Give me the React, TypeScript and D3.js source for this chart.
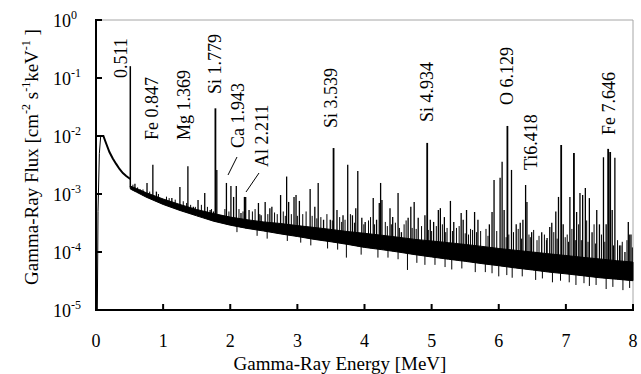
import React from 'react';
import * as d3 from 'd3';

// ---------------- DATA ----------------
const xTicks = [0, 1, 2, 3, 4, 5, 6, 7, 8];
const yTickExps = [0, -1, -2, -3, -4, -5];

// steep rise at the lowest energies (thin line)
const riseEnergy = [0.02, 0.03, 0.05, 0.07];
const riseFlux = [1e-5, 5e-4, 5e-3, 1e-2];

// low-energy part of the spectrum (below the 0.511 line)
const lowEnergy = [0.07, 0.08, 0.11, 0.15, 0.2, 0.25, 0.3, 0.35, 0.4, 0.45, 0.5, 0.511];
const lowFlux = [1e-2, 1e-2, 1e-2, 7.5e-3, 5.3e-3, 4.1e-3, 3.3e-3, 2.7e-3, 2.3e-3, 2.05e-3, 1.85e-3, 1.82e-3];

// annihilation line
const annihEnergy = 0.511;
const annihTop = 0.16;
const annihBase = 1.3e-3;

// noisy continuum band (upper / lower envelope of the dense core)
const bandEnergy = [0.511, 0.6, 0.75, 1.0, 1.25, 1.5, 1.75, 2.0, 2.25, 2.5, 2.75, 3.0, 3.25, 3.5, 3.75, 4.0, 4.25, 4.5, 4.75, 5.0, 5.25, 5.5, 5.75, 6.0, 6.25, 6.5, 6.75, 7.0, 7.25, 7.5, 7.75, 8.0];
const bandUpper = [1.37e-3, 1.25e-3, 1.05e-3, 8.2e-4, 6.6e-4, 5.4e-4, 4.6e-4, 4.0e-4, 3.6e-4, 3.3e-4, 3.1e-4, 2.85e-4, 2.65e-4, 2.45e-4, 2.25e-4, 2.1e-4, 1.95e-4, 1.8e-4, 1.65e-4, 1.55e-4, 1.45e-4, 1.35e-4, 1.25e-4, 1.15e-4, 1.07e-4, 1.0e-4, 9.3e-5, 8.7e-5, 8.1e-5, 7.6e-5, 7.1e-5, 6.7e-5];
const bandLower = [1.22e-3, 1.08e-3, 8.8e-4, 6.6e-4, 5.2e-4, 4.2e-4, 3.4e-4, 2.9e-4, 2.55e-4, 2.3e-4, 2.05e-4, 1.85e-4, 1.65e-4, 1.5e-4, 1.35e-4, 1.2e-4, 1.1e-4, 1.0e-4, 9e-5, 8.2e-5, 7.5e-5, 6.9e-5, 6.3e-5, 5.8e-5, 5.3e-5, 4.9e-5, 4.5e-5, 4.2e-5, 3.9e-5, 3.6e-5, 3.4e-5, 3.2e-5];

// line peaks
const peakEnergy = [0.58, 0.66, 0.76, 0.847, 0.9, 0.98, 1.13, 1.25, 1.369, 1.45, 1.52, 1.62, 1.7, 1.75, 1.779, 1.8, 1.87, 1.943, 2.01, 2.05, 2.09, 2.16, 2.211, 2.23, 2.28, 2.42, 2.46, 2.52, 2.59, 2.62, 2.75, 2.84, 2.87, 2.95, 2.98, 3.03, 3.19, 3.26, 3.31, 3.39, 3.49, 3.539, 3.59, 3.68, 3.75, 3.82, 3.87, 3.9, 3.96, 4.01, 4.13, 4.18, 4.22, 4.24, 4.26, 4.38, 4.42, 4.5, 4.55, 4.65, 4.69, 4.74, 4.8, 4.9, 4.934, 4.98, 5.03, 5.1, 5.13, 5.19, 5.28, 5.33, 5.44, 5.47, 5.52, 5.64, 5.69, 5.86, 5.9, 5.93, 6.02, 6.05, 6.08, 6.129, 6.19, 6.26, 6.32, 6.36, 6.4, 6.42, 6.49, 6.64, 6.72, 6.76, 6.79, 6.85, 6.89, 6.93, 6.96, 7.06, 7.12, 7.16, 7.21, 7.25, 7.29, 7.35, 7.39, 7.46, 7.5, 7.56, 7.6, 7.63, 7.66, 7.69, 7.73, 7.8, 7.88, 7.93, 7.97];
const peakFlux = [1.5e-3, 1.2e-3, 1.55e-3, 3.2e-3, 1.1e-3, 7.9e-4, 8.5e-4, 1.32e-3, 3.0e-3, 6e-4, 7.9e-4, 1.04e-3, 5.3e-4, 5e-4, 0.03, 2.6e-3, 4.3e-4, 1.55e-3, 1.37e-3, 8.9e-4, 1.37e-3, 4.7e-4, 8.9e-4, 8.9e-4, 5.3e-4, 7e-4, 4.3e-4, 7.3e-4, 5.7e-4, 6e-4, 9.6e-4, 2.0e-3, 7.3e-4, 8.9e-4, 9.6e-4, 7.6e-4, 1.22e-3, 6e-4, 1.55e-3, 3.6e-4, 3.6e-4, 6.2e-3, 5.3e-4, 4.3e-4, 3.2e-3, 4.3e-4, 5.7e-4, 2.5e-3, 3.9e-4, 3.3e-4, 8.5e-4, 3.6e-4, 7e-4, 1.55e-3, 7.9e-4, 5.7e-4, 4.0e-4, 1.04e-3, 2.2e-4, 3.9e-4, 6e-4, 7.3e-4, 3.9e-4, 4.3e-4, 7.6e-3, 3.6e-4, 3.3e-4, 5.3e-4, 5.7e-4, 4.0e-4, 7.6e-4, 3.3e-4, 4.7e-4, 3.6e-4, 5.3e-4, 4.9e-4, 3.6e-4, 3.0e-4, 4.9e-4, 1.74e-3, 1.9e-3, 3.6e-3, 5.3e-4, 0.0149, 2.6e-3, 3e-4, 3.2e-4, 3.6e-4, 1.43e-3, 7.3e-4, 2.2e-4, 2.2e-4, 1.74e-4, 2.7e-4, 3.2e-4, 5e-4, 8.9e-4, 7.0e-3, 3e-4, 8.9e-4, 5.1e-3, 4.9e-4, 1.04e-3, 9.6e-4, 1.27e-3, 8.5e-4, 2.2e-4, 5.3e-4, 3e-4, 4.3e-3, 3e-4, 6.0e-3, 5.3e-3, 5.3e-4, 4.2e-3, 1.3e-4, 1.0e-4, 3.3e-4, 2e-4];

// small noise spikes just above the band
const spikeEnergy = [0.55, 0.62, 0.7, 0.8, 0.93, 1.05, 1.09, 1.18, 1.3, 1.35, 1.41, 1.48, 1.57, 1.66, 1.72, 1.92, 1.98, 2.13, 2.19, 2.33, 2.37, 2.44, 2.56, 2.66, 2.7, 2.79, 2.82, 2.91, 3.0, 3.08, 3.13, 3.22, 3.29, 3.35, 3.44, 3.52, 3.63, 3.66, 3.71, 3.79, 3.85, 3.99, 4.06, 4.09, 4.15, 4.31, 4.34, 4.4, 4.46, 4.52, 4.59, 4.62, 4.71, 4.77, 4.85, 4.95, 5.0, 5.07, 5.16, 5.21, 5.23, 5.31, 5.37, 5.41, 5.5, 5.55, 5.58, 5.61, 5.67, 5.73, 5.81, 5.84, 5.97, 6.11, 6.15, 6.22, 6.29, 6.34, 6.45, 6.47, 6.52, 6.57, 6.6, 6.68, 6.71, 6.82, 6.87, 6.99, 7.02, 7.04, 7.09, 7.14, 7.19, 7.23, 7.31, 7.33, 7.42, 7.44, 7.53, 7.58, 7.71, 7.77, 7.82, 7.84, 7.91, 7.95, 7.99];
const spikeFlux = [1.45e-3, 1.3e-3, 1.2e-3, 1.1e-3, 1.0e-3, 9e-4, 8.5e-4, 8e-4, 7.5e-4, 7e-4, 6.5e-4, 6e-4, 6.5e-4, 6e-4, 5.5e-4, 5.5e-4, 5e-4, 5.5e-4, 5e-4, 5e-4, 5.5e-4, 4.5e-4, 4.5e-4, 4.8e-4, 4.5e-4, 5e-4, 4.2e-4, 4.5e-4, 4.2e-4, 4.5e-4, 5e-4, 4.2e-4, 3.8e-4, 4e-4, 4.5e-4, 3.5e-4, 4e-4, 3.3e-4, 3.6e-4, 4.5e-4, 3.2e-4, 3e-4, 3.5e-4, 4e-4, 3e-4, 3.3e-4, 2.8e-4, 3e-4, 3.2e-4, 2.6e-4, 3e-4, 3.5e-4, 2.6e-4, 2.5e-4, 2.8e-4, 2.4e-4, 2.3e-4, 2.8e-4, 3e-4, 2.2e-4, 2.6e-4, 2.3e-4, 2.6e-4, 2.8e-4, 2.1e-4, 2e-4, 2.5e-4, 2.4e-4, 2.2e-4, 2.3e-4, 2.5e-4, 1.9e-4, 2.3e-4, 1.8e-4, 2e-4, 2.2e-4, 2.5e-4, 1.7e-4, 2.0e-4, 1.8e-4, 2.4e-4, 1.6e-4, 1.9e-4, 2.0e-4, 1.6e-4, 2.2e-4, 1.7e-4, 1.8e-4, 2.0e-4, 1.5e-4, 2.5e-4, 1.6e-4, 3e-4, 1.6e-4, 3.5e-4, 1.5e-4, 3e-4, 1.4e-4, 2.0e-4, 1.5e-4, 1.3e-4, 1.6e-4, 1.3e-4, 1.5e-4, 1.6e-4, 2.0e-4, 1.2e-4];

// downward noise dips below the band
const dipEnergy = [2.1, 2.4, 2.55, 2.85, 3.05, 3.2, 3.45, 3.6, 3.73, 3.95, 4.2, 4.35, 4.5, 4.64, 4.78, 4.9, 5.05, 5.2, 5.3, 5.45, 5.65, 5.8, 5.9, 6.0, 6.12, 6.2, 6.35, 6.55, 6.65, 6.8, 6.92, 7.05, 7.15, 7.27, 7.35, 7.45, 7.6, 7.7, 7.85, 7.95];
const dipFlux = [2.2e-4, 1.9e-4, 1.7e-4, 1.55e-4, 1.45e-4, 1.3e-4, 1.15e-4, 1.1e-4, 8e-5, 9e-5, 8e-5, 8e-5, 7.5e-5, 4.9e-5, 6.5e-5, 6e-5, 6e-5, 5.5e-5, 5e-5, 5.2e-5, 4.5e-5, 4.5e-5, 4.3e-5, 3.8e-5, 4e-5, 3.6e-5, 3.8e-5, 3.3e-5, 3.5e-5, 3.0e-5, 3.2e-5, 3.0e-5, 2.7e-5, 2.9e-5, 2.6e-5, 2.7e-5, 2.3e-5, 2.5e-5, 2.2e-5, 2.4e-5];

// line annotations
const labelTexts = ['0.511', 'Fe 0.847', 'Mg 1.369', 'Si 1.779', 'Ca 1.943', 'Al 2.211', 'Si 3.539', 'Si 4.934', 'O 6.129', 'Ti6.418', 'Fe 7.646'];

// ---------------- LAYOUT ----------------
const W = 641, H = 374;
const M = { left: 96, right: 633, top: 20, bottom: 310 };
// label positions (baseline x, start y) in pixels
const labelPos: [number, number][] = [
  [127, 78], [158, 140], [190, 140], [221, 94], [244, 148], [268, 167],
  [337, 128], [433, 122], [513, 105], [537, 170], [615, 135],
];
const leaders: [number, number, number, number][] = [
  [228, 175, 237, 157],
  [246, 192, 259, 173],
];

const FONT = "'Liberation Serif', 'Times New Roman', serif";

export default function App() {
  const x = d3.scaleLinear().domain([0, 8]).range([M.left, M.right]);
  const y = d3.scaleLog().domain([1e-5, 1]).range([M.bottom, M.top]);

  const upperAt = d3.scaleLinear().domain(bandEnergy).range(bandUpper).clamp(true);
  const lowerAt = d3.scaleLinear().domain(bandEnergy).range(bandLower).clamp(true);

  const riseLine = d3.line<number>()
    .x((_, i) => x(riseEnergy[i]))
    .y((_, i) => y(riseFlux[i]))(riseFlux) as string;

  const lowLine = d3.line<number>()
    .x((_, i) => x(lowEnergy[i]))
    .y((_, i) => y(lowFlux[i]))(lowFlux) as string;

  const bandArea = d3.area<number>()
    .x((_, i) => x(bandEnergy[i]))
    .y0((_, i) => y(bandLower[i]))
    .y1((_, i) => y(bandUpper[i]))(bandUpper) as string;

  return (
    <svg width={W} height={H} style={{ position: 'absolute', left: 0, top: 0, background: '#fff' }}
      fontFamily={FONT}>
      {/* frame */}
      <line x1={M.left} x2={M.right} y1={M.top} y2={M.top} stroke="#a6a6a6" strokeWidth={1} />
      <line x1={M.right} x2={M.right} y1={M.top} y2={M.bottom} stroke="#a6a6a6" strokeWidth={1} />

      {/* spectrum */}
      <path d={riseLine} fill="none" stroke="#000" strokeWidth={1} />
      <path d={lowLine} fill="none" stroke="#000" strokeWidth={2} />
      <line x1={x(annihEnergy)} x2={x(annihEnergy)} y1={y(annihBase)} y2={y(annihTop)} stroke="#000" strokeWidth={1.5} />
      <path d={bandArea} fill="#000" stroke="#000" strokeWidth={1} />
      {spikeEnergy.map((e, i) => (
        <line key={'s' + i} x1={x(e)} x2={x(e)} y1={y(lowerAt(e))} y2={y(spikeFlux[i])} stroke="#000" strokeWidth={1} />
      ))}
      {dipEnergy.map((e, i) => (
        <line key={'d' + i} x1={x(e)} x2={x(e)} y1={y(upperAt(e))} y2={y(dipFlux[i])} stroke="#000" strokeWidth={1} />
      ))}
      {peakEnergy.map((e, i) => (
        <line key={'p' + i} x1={x(e)} x2={x(e)} y1={y(lowerAt(e))} y2={y(peakFlux[i])} stroke="#000"
          strokeWidth={peakFlux[i] > 5e-3 ? 1.8 : 1.3} />
      ))}

      {/* axes */}
      <line x1={M.left} x2={M.left} y1={M.top - 1} y2={M.bottom + 1} stroke="#000" strokeWidth={2} />
      <line x1={M.left - 1} x2={M.right + 1} y1={M.bottom} y2={M.bottom} stroke="#000" strokeWidth={2} />
      {xTicks.map(t => (
        <g key={'xt' + t}>
          <line x1={x(t)} x2={x(t)} y1={M.bottom} y2={M.bottom - 6} stroke="#000" strokeWidth={2} />
          <text x={x(t)} y={347} textAnchor="middle" fontSize={18}>{t}</text>
        </g>
      ))}
      {yTickExps.map(p => (
        <g key={'yt' + p}>
          <line x1={M.left} x2={M.left + 6} y1={y(Math.pow(10, p))} y2={y(Math.pow(10, p))} stroke="#000" strokeWidth={2} />
          <text x={53} y={y(Math.pow(10, p)) + 7} fontSize={18}>10<tspan dy={-8} fontSize={12}>{p === 0 ? '0' : '-' + Math.abs(p)}</tspan></text>
        </g>
      ))}

      {/* axis titles */}
      <text x={340} y={370} textAnchor="middle" fontSize={19}>Gamma-Ray Energy [MeV]</text>
      <text transform={`translate(38, 157) rotate(-90)`} textAnchor="middle" fontSize={19}>
        Gamma-Ray Flux [cm<tspan dy={-8} fontSize={12}>-2</tspan><tspan dy={8}> s</tspan><tspan dy={-8} fontSize={12}>-1</tspan><tspan dy={8}>keV</tspan><tspan dy={-8} fontSize={12}>-1</tspan><tspan dy={8}> ]</tspan>
      </text>

      {/* line labels */}
      {labelTexts.map((t, i) => (
        <text key={'l' + i} transform={`translate(${labelPos[i][0]}, ${labelPos[i][1]}) rotate(-90)`} fontSize={18}>{t}</text>
      ))}
      {leaders.map((l, i) => (
        <line key={'ld' + i} x1={l[0]} y1={l[1]} x2={l[2]} y2={l[3]} stroke="#000" strokeWidth={1} />
      ))}
    </svg>
  );
}
